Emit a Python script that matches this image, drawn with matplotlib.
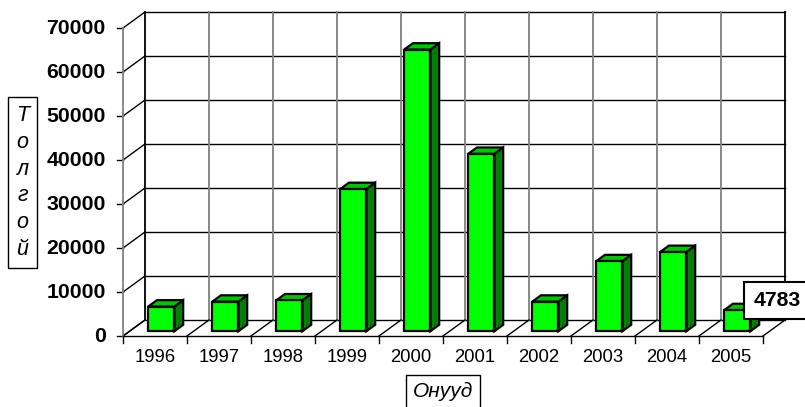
import matplotlib
matplotlib.use("Agg")
import matplotlib.pyplot as plt
from matplotlib.patches import Polygon

# data
years = ["1996", "1997", "1998", "1999", "2000", "2001", "2002", "2003", "2004", "2005"]
values = [5600, 6700, 7000, 32300, 64000, 40300, 6700, 15900, 18000, 4783]
yticks = [0, 10000, 20000, 30000, 40000, 50000, 60000, 70000]
ymax = 70000

plt.rcParams['font.family'] = ['Liberation Sans', 'DejaVu Sans']

fig = plt.figure(figsize=(8.05, 4.07), dpi=100)
ax = fig.add_axes([0, 0, 1, 1])
ax.set_xlim(-123 / 64, (805 - 123) / 64)
ax.set_ylim((336 - 407) * ymax / 308, 336 * ymax / 308)
ax.axis('off')

n = len(years)
dx = 22 / 64               # depth offset in category units
dy = 16 * ymax / 308       # depth offset in value units

# back wall: horizontal grid lines
for v in yticks:
    ax.plot([dx, n + dx], [v + dy, v + dy], color='black', lw=1, zorder=1)
    # left wall diagonals
    ax.plot([0, dx], [v, v + dy], color='black', lw=1, zorder=1)
    # y ticks + labels
    ax.plot([-0.094, 0], [v, v], color='black', lw=1, zorder=1)
    ax.text(-0.27, v, str(v), ha='right', va='center', fontsize=15.3,
            fontweight='bold')

# back wall verticals
for k in range(n + 1):
    col = 'black' if k in (0, n) else '#808080'
    ax.plot([k + dx, k + dx], [dy, ymax + dy], color=col, lw=1.3, zorder=1)
    # floor diagonals
    ax.plot([k, k + dx], [0, dy], color='black', lw=1, zorder=1)
    # x ticks
    ax.plot([k, k], [0, -1500], color='black', lw=1, zorder=1)

# front y axis line, floor front edge
ax.plot([0, 0], [0, ymax], color='#808080', lw=1.3, zorder=1)
ax.plot([0, n], [0, 0], color='black', lw=1, zorder=1)

for i, y in enumerate(years):
    ax.text(i + 0.5, -4886, y, ha='center', va='center', fontsize=13.3)

# bars
x_off, w = 0.29, 0.41
f0, f1 = 0.3, 0.7
for i, v in enumerate(values):
    x0 = i + x_off + f0 * dx
    b0 = f0 * dy
    ddx = (f1 - f0) * dx
    ddy = (f1 - f0) * dy
    front = [(x0, b0), (x0 + w, b0), (x0 + w, b0 + v), (x0, b0 + v)]
    side = [(x0 + w, b0), (x0 + w + ddx, b0 + ddy), (x0 + w + ddx, b0 + v + ddy),
            (x0 + w, b0 + v)]
    top = [(x0, b0 + v), (x0 + w, b0 + v), (x0 + w + ddx, b0 + v + ddy),
           (x0 + ddx, b0 + v + ddy)]
    ax.add_patch(Polygon(side, closed=True, facecolor='#008000', edgecolor='black',
                         lw=1.6, joinstyle='miter', zorder=3))
    ax.add_patch(Polygon(top, closed=True, facecolor='#00C800', edgecolor='black',
                         lw=1.6, joinstyle='miter', zorder=3))
    ax.add_patch(Polygon(front, closed=True, facecolor='#00FF00', edgecolor='black',
                         lw=1.6, joinstyle='miter', zorder=4))

# value label for last bar
ax.text(9.85, values[-1] + 3300, str(values[-1]), ha='left', va='center',
        fontsize=15.3, fontweight='bold', zorder=6,
        bbox=dict(boxstyle='square,pad=0.42', facecolor='white',
                  edgecolor='black', lw=1.5))

# axis titles
ax.text(-1.57, 34886, "Т\nо\nл\nг\nо\nй", ha='center', va='center', fontsize=15.5,
        style='italic', linespacing=1.37,
        bbox=dict(boxstyle='square,pad=0.38', facecolor='white',
                  edgecolor='black', lw=1))
ax.text(5.0, -12600, "Онууд", ha='center', va='center', fontsize=15,
        style='italic',
        bbox=dict(boxstyle='square,pad=0.35', facecolor='white',
                  edgecolor='black', lw=1))

fig.savefig("out.png", dpi=100)
